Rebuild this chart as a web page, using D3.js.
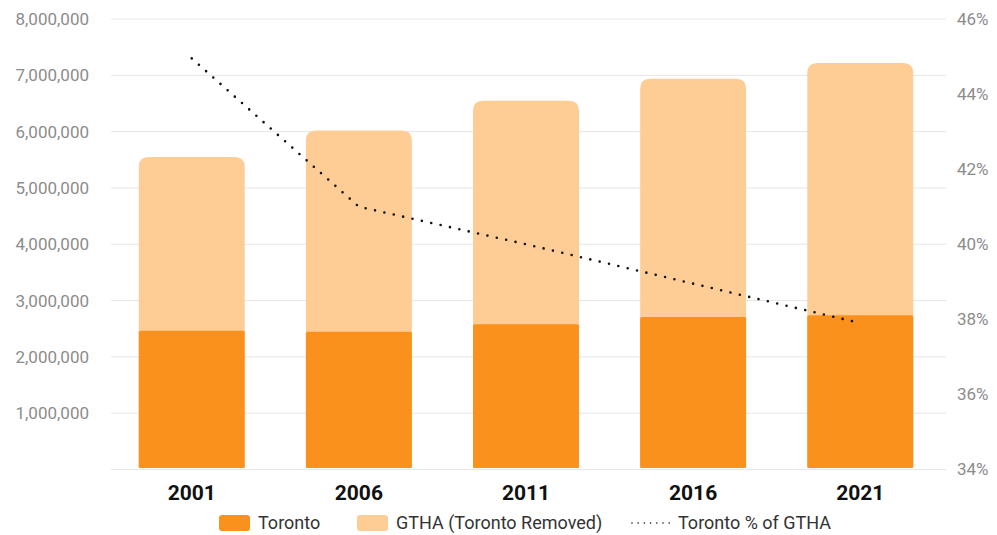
<!DOCTYPE html>
<html>
<head>
<meta charset="utf-8">
<script src="https://cdn.jsdelivr.net/npm/d3@7"></script>
<style>
  body { margin: 0; background: #fff; }
  svg text { font-family: Roboto, "Noto Sans", sans-serif; }
</style>
</head>
<body>
<svg id="mainSvg" width="997" height="535"></svg>
<script>
// census years and values
const years = ["2001", "2006", "2011", "2016", "2021"];
const torontoPop = [2466000, 2448000, 2580000, 2710000, 2740000];
const restPop = [3084000, 3572000, 3970000, 4230000, 4480000];
const torontoShare = [44.95, 41.0, 40.0, 38.95, 37.9];

const popTicks = [0, 1000000, 2000000, 3000000, 4000000, 5000000, 6000000, 7000000, 8000000];
const shareTicks = [34, 36, 38, 40, 42, 44, 46];

const darkOrange = "#fa911c";
const lightOrange = "#fdcd95";

let canvas = d3.select("#mainSvg");
let plotLeft = 111, plotRight = 946, plotTop = 19, plotBottom = 469.5;

let x = d3.scaleBand()
    .domain(years)
    .range([107, 945])
    .paddingInner(0.366)
    .paddingOuter(0.19);

let y = d3.scaleLinear().domain([0, 8000000]).range([plotBottom, plotTop]);
let y2 = d3.scaleLinear().domain([34, 46]).range([plotBottom, plotTop]);

// grid lines
canvas.append("g")
    .selectAll("line")
    .data(popTicks)
    .enter()
        .append("line")
        .attr("x1", plotLeft)
        .attr("x2", plotRight)
        .attr("y1", d => y(d))
        .attr("y2", d => y(d))
        .attr("stroke", "#e6e6e6")
        .attr("stroke-width", 1);

// left axis labels
let fmt = d3.format(",");
canvas.append("g")
    .selectAll("text")
    .data(popTicks.filter(d => d > 0))
    .enter()
        .append("text")
        .attr("x", 89)
        .attr("y", d => y(d))
        .attr("dy", "0.35em")
        .attr("text-anchor", "end")
        .attr("font-size", 17)
        .attr("fill", "#8c8c8c")
        .text(d => fmt(d));

// right axis labels
canvas.append("g")
    .selectAll("text")
    .data(shareTicks)
    .enter()
        .append("text")
        .attr("x", 957)
        .attr("y", d => y2(d))
        .attr("dy", "0.35em")
        .attr("text-anchor", "start")
        .attr("font-size", 17)
        .attr("fill", "#8c8c8c")
        .text(d => d + "%");

// stacked bars
let data = years.map((yr, i) => ({year: yr, toronto: torontoPop[i], total: torontoPop[i] + restPop[i]}));
let r = 10;

function topRounded(d) {
    let x0 = x(d.year), x1 = x0 + x.bandwidth();
    let yt = y(d.total), yb = y(0) - 1.5;
    return `M${x0},${yb} L${x0},${yt + r} Q${x0},${yt} ${x0 + r},${yt} L${x1 - r},${yt} Q${x1},${yt} ${x1},${yt + r} L${x1},${yb} Z`;
}

canvas.append("g")
    .selectAll("path")
    .data(data)
    .enter()
        .append("path")
        .attr("d", d => topRounded(d))
        .attr("fill", lightOrange);

canvas.append("g")
    .selectAll("rect")
    .data(data)
    .enter()
        .append("rect")
        .attr("x", d => x(d.year))
        .attr("y", d => y(d.toronto))
        .attr("width", x.bandwidth())
        .attr("height", d => y(0) - 1.5 - y(d.toronto))
        .attr("rx", 1.5)
        .attr("fill", darkOrange);

// share line
let line = d3.line()
    .x((d, i) => x(years[i]) + x.bandwidth() / 2)
    .y(d => y2(d));

canvas.append("path")
    .datum(torontoShare)
    .attr("d", line)
    .attr("fill", "none")
    .attr("stroke", "#111")
    .attr("stroke-width", 2.6)
    .attr("stroke-linecap", "round")
    .attr("stroke-dasharray", "0,9.6");

// year labels
canvas.append("g")
    .selectAll("text")
    .data(years)
    .enter()
        .append("text")
        .attr("x", d => x(d) + x.bandwidth() / 2)
        .attr("y", 500)
        .attr("text-anchor", "middle")
        .attr("font-size", 21)
        .attr("font-weight", 700)
        .attr("fill", "#111")
        .text(d => d);

// legend
let legend = canvas.append("g").attr("transform", "translate(0,523)");
let legendItems = [
    {label: "Toronto", kind: "box", color: darkOrange, x: 219},
    {label: "GTHA (Toronto Removed)", kind: "box", color: lightOrange, x: 357},
    {label: "Toronto % of GTHA", kind: "dots", color: "#111", x: 632}
];

legendItems.forEach(item => {
    if (item.kind === "box") {
        legend.append("rect")
            .attr("x", item.x)
            .attr("y", -8)
            .attr("width", 31)
            .attr("height", 16)
            .attr("rx", 3)
            .attr("fill", item.color);
    } else {
        legend.append("line")
            .attr("x1", item.x)
            .attr("x2", item.x + 38)
            .attr("y1", 0)
            .attr("y2", 0)
            .attr("stroke", item.color)
            .attr("stroke-width", 1.6)
            .attr("stroke-linecap", "round")
            .attr("stroke-dasharray", "0,6.2");
    }
    legend.append("text")
        .attr("x", item.kind === "box" ? item.x + 39 : item.x + 46)
        .attr("y", 0)
        .attr("dy", "0.35em")
        .attr("font-size", 18)
        .attr("fill", "#333")
        .text(item.label);
});
</script>
</body>
</html>
